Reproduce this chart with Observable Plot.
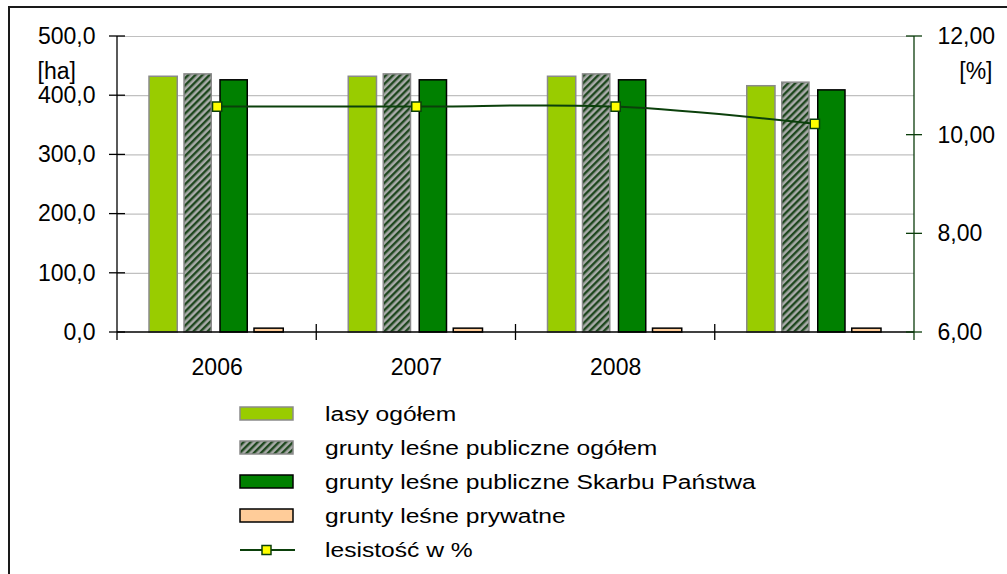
<!DOCTYPE html>
<html>
<head>
<meta charset="utf-8">
<script src="https://cdn.jsdelivr.net/npm/d3@7"></script>
<script src="https://cdn.jsdelivr.net/npm/@observablehq/plot@0.6"></script>
<style>
  html, body { margin: 0; padding: 0; background: #fff; }
  body { font-family: "Liberation Sans", Arial, sans-serif; color: #000; }
  #wrap { position: relative; width: 1007px; height: 574px; overflow: hidden; }
  #frame { position: absolute; left: 8px; top: 6px; width: 1100px; height: 700px;
           border-left: 2px solid #1a1a1a; border-top: 2px solid #1a1a1a; pointer-events: none; }
  #legend { padding-top: 12px; }
  .row { height: 34px; display: flex; align-items: center; }
  .sw { margin-left: 238px; width: 58px; height: 18px; display: block; }
  .lab { margin-left: 29px; font-size: 20px; white-space: pre; display: inline-block;
         transform: scaleX(1.23); transform-origin: left center; }
</style>
</head>
<body>
<div id="wrap">
  <div id="chart"></div>
  <div id="legend"></div>
  <div id="frame"></div>
</div>
<script>
// ---- data ----
const years = ["2006", "2007", "2008", ""];
const groupIds = [0, 1, 2, 3];
const seriesNames = [
  "lasy ogółem",
  "grunty leśne publiczne ogółem",
  "grunty leśne publiczne Skarbu Państwa",
  "grunty leśne prywatne"
];
const lasyOgolem      = [432, 432, 432, 416];
const publiczneOgolem = [436, 436, 436, 422];
const skarbPanstwa    = [426, 426, 426, 409];
const prywatne        = [6.5, 6.5, 6.5, 6.5];
const lesistosc       = [10.58, 10.58, 10.58, 10.23];
const lineName = "lesistość w %";
const haTicks = [0, 100, 200, 300, 400, 500];
const pctTicks = [6, 8, 10, 12];
const unitLeft = "[ha]";
const unitRight = "[%]";

// ---- helpers ----
const pctToHa = d3.scaleLinear([6, 12], [0, 500]);
const fmtHa = d => d3.format(".1f")(d).replace(".", ",");
const fmtPct = d => d3.format(".2f")(pctToHa.invert(d)).replace(".", ",");

const table = groupIds.map(i => ({
  g: i,
  lasy: lasyOgolem[i],
  publ: publiczneOgolem[i],
  skarb: skarbPanstwa[i],
  pryw: prywatne[i],
  pct: lesistosc[i]
}));

const W = 1007, H = 385;
const mL = 117, mR = 93, mT = 36, mB = 53;
const FS = 23;

// custom axis lines / crossing ticks + hatch pattern
function decor(index, scales, values, dims) {
  const {width, marginLeft, marginRight} = dims;
  const xa = marginLeft, xb = width - marginRight;
  const y = scales.y;
  const g = d3.create("svg:g");
  const defs = g.append("defs");
  const p = defs.append("pattern").attr("id", "hatch").attr("patternUnits", "userSpaceOnUse")
    .attr("width", 5).attr("height", 5).attr("patternTransform", "rotate(45)");
  p.append("rect").attr("width", 5).attr("height", 5).attr("fill", "#a9aba9");
  p.append("rect").attr("width", 2.4).attr("height", 5).attr("fill", "#1f471f");
  // left axis
  g.append("line").attr("x1", xa).attr("x2", xa).attr("y1", y(500)).attr("y2", y(0) + 8)
    .attr("stroke", "#000").attr("stroke-width", 1.3);
  for (const t of haTicks) {
    g.append("line").attr("x1", xa - 8).attr("x2", xa + 8).attr("y1", y(t)).attr("y2", y(t))
      .attr("stroke", "#000").attr("stroke-width", 1.3);
  }
  // baseline and category ticks
  g.append("line").attr("x1", xa).attr("x2", xb).attr("y1", y(0)).attr("y2", y(0))
    .attr("stroke", "#000").attr("stroke-width", 1.3);
  const n = groupIds.length, step = (xb - xa) / n;
  for (let i = 1; i < n; i++) {
    const xx = xa + i * step;
    g.append("line").attr("x1", xx).attr("x2", xx).attr("y1", y(0) - 8).attr("y2", y(0) + 8)
      .attr("stroke", "#000").attr("stroke-width", 1.3);
  }
  // right axis
  g.append("line").attr("x1", xb).attr("x2", xb).attr("y1", y(500)).attr("y2", y(0) + 8)
    .attr("stroke", "#0b3d0b").attr("stroke-width", 1.3);
  for (const t of pctTicks) {
    const yy = y(pctToHa(t));
    g.append("line").attr("x1", xb - 8).attr("x2", xb + 8).attr("y1", yy).attr("y2", yy)
      .attr("stroke", "#0b3d0b").attr("stroke-width", 1.3);
  }
  return g.node();
}

const barDefs = [
  {key: "lasy",  fill: "#99cc00",     stroke: "#8a8a8a", insetLeft: 32,  insetRight: 139},
  {key: "publ",  fill: "url(#hatch)", stroke: "#8a8a8a", insetLeft: 67,  insetRight: 105},
  {key: "skarb", fill: "#008000",     stroke: "#000",    insetLeft: 103, insetRight: 69},
  {key: "pryw",  fill: "#ffcc99",     stroke: "#000",    insetLeft: 137, insetRight: 33}
];

const chart = Plot.plot({
  width: W, height: H,
  marginLeft: mL, marginRight: mR, marginTop: mT, marginBottom: mB,
  style: {fontFamily: "Liberation Sans, Arial, sans-serif", fontSize: FS + "px", color: "#000", background: "transparent"},
  x: {type: "band", domain: groupIds, padding: 0, round: false},
  y: {domain: [0, 500], nice: false},
  marks: [
    Plot.ruleY(haTicks.slice(1), {stroke: "#c0c0c0", strokeWidth: 1.2}),
    ...barDefs.map(b => Plot.barY(table, {
      x: "g", y: b.key, fill: b.fill, stroke: b.stroke, strokeWidth: 1.5,
      insetLeft: b.insetLeft, insetRight: b.insetRight
    })),
    decor,
    Plot.line(table, {x: "g", y: d => pctToHa(d.pct), stroke: "#0b400b", strokeWidth: 2, curve: "catmull-rom"}),
    Plot.dot(table, {x: "g", y: d => pctToHa(d.pct), symbol: "square", r: 5.2, fill: "#ffff00", stroke: "#0b400b", strokeWidth: 1.5}),
    Plot.axisY(haTicks, {anchor: "left", tickSize: 0, tickPadding: 22, tickFormat: fmtHa, label: null, fontSize: FS}),
    Plot.axisY(pctTicks.map(pctToHa), {anchor: "right", tickSize: 0, tickPadding: 23, tickFormat: fmtPct, label: null, fontSize: FS}),
    Plot.axisX(groupIds, {anchor: "bottom", tickSize: 0, tickPadding: 26, tickFormat: i => years[i], label: null, fontSize: FS}),
    Plot.text([unitLeft], {frameAnchor: "top-left", text: d => d, dx: -80, dy: 26, textAnchor: "start", fontSize: FS}),
    Plot.text([unitRight], {frameAnchor: "top-right", text: d => d, dx: 78, dy: 26, textAnchor: "end", fontSize: FS})
  ]
});
document.getElementById("chart").appendChild(chart);

// ---- legend ----
const legend = d3.select("#legend");
const swStyles = [
  {fill: "#99cc00", stroke: "#8a8a8a"},
  {fill: "url(#hatch2)", stroke: "#8a8a8a"},
  {fill: "#008000", stroke: "#000"},
  {fill: "#ffcc99", stroke: "#000"}
];
seriesNames.forEach((name, i) => {
  const row = legend.append("div").attr("class", "row");
  const svg = row.append("svg").attr("class", "sw").attr("width", 58).attr("height", 18);
  if (i === 1) {
    const p = svg.append("defs").append("pattern").attr("id", "hatch2").attr("patternUnits", "userSpaceOnUse")
      .attr("width", 5).attr("height", 5).attr("patternTransform", "rotate(45)");
    p.append("rect").attr("width", 5).attr("height", 5).attr("fill", "#a9aba9");
    p.append("rect").attr("width", 2.4).attr("height", 5).attr("fill", "#1f471f");
  }
  svg.append("rect").attr("x", 2).attr("y", 2).attr("width", 53).attr("height", 13)
    .attr("fill", swStyles[i].fill).attr("stroke", swStyles[i].stroke).attr("stroke-width", 1.5);
  row.append("span").attr("class", "lab").text(name);
});
{
  const row = legend.append("div").attr("class", "row");
  const svg = row.append("svg").attr("class", "sw").attr("width", 58).attr("height", 18);
  svg.append("line").attr("x1", 2).attr("x2", 57).attr("y1", 9).attr("y2", 9)
    .attr("stroke", "#0b400b").attr("stroke-width", 2);
  svg.append("rect").attr("x", 24).attr("y", 4.5).attr("width", 9).attr("height", 9)
    .attr("fill", "#ffff00").attr("stroke", "#0b400b").attr("stroke-width", 1.5);
  row.append("span").attr("class", "lab").text(lineName);
}
</script>
</body>
</html>
